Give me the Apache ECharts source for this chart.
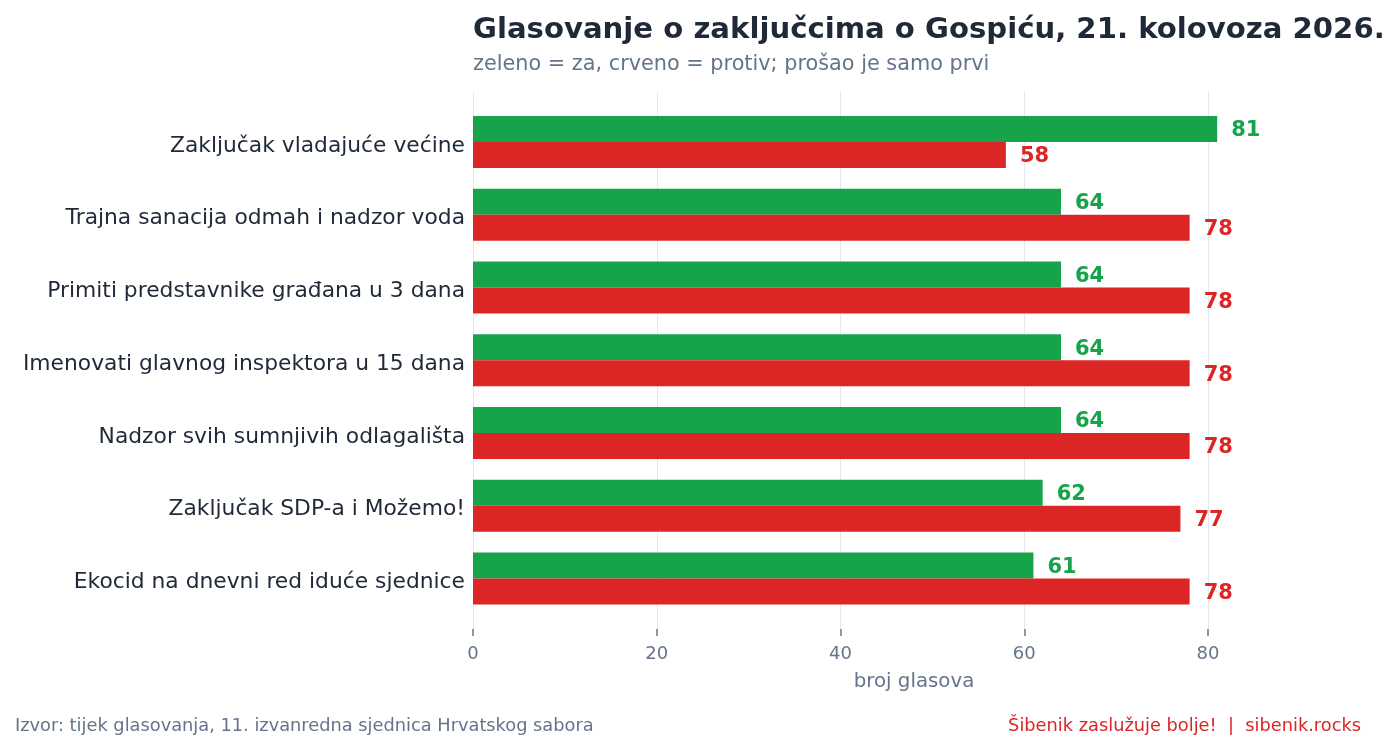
<!DOCTYPE html>
<html>
<head>
<meta charset="utf-8">
<script src="https://cdn.jsdelivr.net/npm/echarts@6/dist/echarts.min.js"></script>
<style>
html,body{margin:0;padding:0;background:#fff;}
#chart{width:1400px;height:749px;}
</style>
</head>
<body>
<div id="chart"></div>
<script>
const categories = [
  "Zaključak vladajuće većine",
  "Trajna sanacija odmah i nadzor voda",
  "Primiti predstavnike građana u 3 dana",
  "Imenovati glavnog inspektora u 15 dana",
  "Nadzor svih sumnjivih odlagališta",
  "Zaključak SDP-a i Možemo!",
  "Ekocid na dnevni red iduće sjednice"
];
const votesFor = [81, 64, 64, 64, 64, 62, 61];
const votesAgainst = [58, 78, 78, 78, 78, 77, 78];
const xTicks = [0, 20, 40, 60, 80];

const FONT = "DejaVu Sans";
const GREEN = "#16a34a";
const RED = "#dc2626";
const GRAY = "#64748b";
const DARK = "#1f2937";

const chart = echarts.init(document.getElementById('chart'), null, {renderer: 'canvas'});

const option = {
  backgroundColor: '#ffffff',
  animation: false,
  textStyle: {fontFamily: FONT},
  title: [
    {
      text: "Glasovanje o zaključcima o Gospiću, 21. kolovoza 2026.",
      left: 473, top: 16, padding: 0,
      textStyle: {fontFamily: FONT, fontSize: 29.15, fontWeight: 'bold', color: DARK}
    },
    {
      text: "zeleno = za, crveno = protiv; prošao je samo prvi",
      left: 473, top: 54, padding: 0,
      textStyle: {fontFamily: FONT, fontSize: 20.8, fontWeight: 'normal', color: GRAY}
    },
    {
      text: "broj glasova",
      left: 914, top: 672, textAlign: 'center', padding: 0,
      textStyle: {fontFamily: FONT, fontSize: 19.8, fontWeight: 'normal', color: GRAY}
    },
    {
      text: "Izvor: tijek glasovanja, 11. izvanredna sjednica Hrvatskog sabora",
      left: 15, top: 717, padding: 0,
      textStyle: {fontFamily: FONT, fontSize: 17.8, fontWeight: 'normal', color: GRAY}
    },
    {
      text: "Šibenik zaslužuje bolje!  |  sibenik.rocks",
      right: 39, top: 717, padding: 0,
      textStyle: {fontFamily: FONT, fontSize: 17.8, fontWeight: 'normal', color: RED}
    }
  ],
  grid: [
    {left: 473, right: 192, top: 92, bottom: 749 - 629},
    {left: 473, right: 192, top: 105.6, height: 509.25}
  ],
  xAxis: [
    {
      gridIndex: 0, type: 'value', min: xTicks[0], max: xTicks[xTicks.length - 1], interval: 20,
      axisLine: {show: false},
      axisTick: {show: true, length: 7, lineStyle: {color: GRAY, width: 1.5}},
      axisLabel: {show: true, color: GRAY, fontSize: 18, fontFamily: FONT, margin: 16},
      splitLine: {show: true, lineStyle: {color: '#e5e7eb', width: 1}}
    },
    {
      gridIndex: 1, type: 'value', min: 0, max: 80,
      show: false,
      splitLine: {show: false}
    }
  ],
  yAxis: [
    {
      gridIndex: 0, type: 'category', data: categories, inverse: true, show: false
    },
    {
      gridIndex: 1, type: 'category', data: categories, inverse: true,
      axisLine: {show: false},
      axisTick: {show: false},
      axisLabel: {
        margin: 8,
        formatter: function (v) { return '{c|' + v + '}'; },
        rich: {c: {color: DARK, fontSize: 21.8, fontFamily: FONT, padding: [8, 0, 0, 0]}}
      },
      splitLine: {show: false}
    }
  ],
  series: [
    {
      name: 'za', type: 'bar', xAxisIndex: 1, yAxisIndex: 1,
      data: votesFor, clip: false,
      itemStyle: {color: GREEN},
      barGap: '0%', barCategoryGap: '28.5%',
      label: {show: true, position: 'right', distance: 14, offset: [0, 2], color: GREEN,
        fontWeight: 'bold', fontSize: 21, fontFamily: FONT}
    },
    {
      name: 'protiv', type: 'bar', xAxisIndex: 1, yAxisIndex: 1,
      data: votesAgainst, clip: false,
      itemStyle: {color: RED},
      barGap: '0%', barCategoryGap: '28.5%',
      label: {show: true, position: 'right', distance: 14, offset: [0, 2], color: RED,
        fontWeight: 'bold', fontSize: 21, fontFamily: FONT}
    }
  ]
};
chart.setOption(option);
</script>
</body>
</html>
